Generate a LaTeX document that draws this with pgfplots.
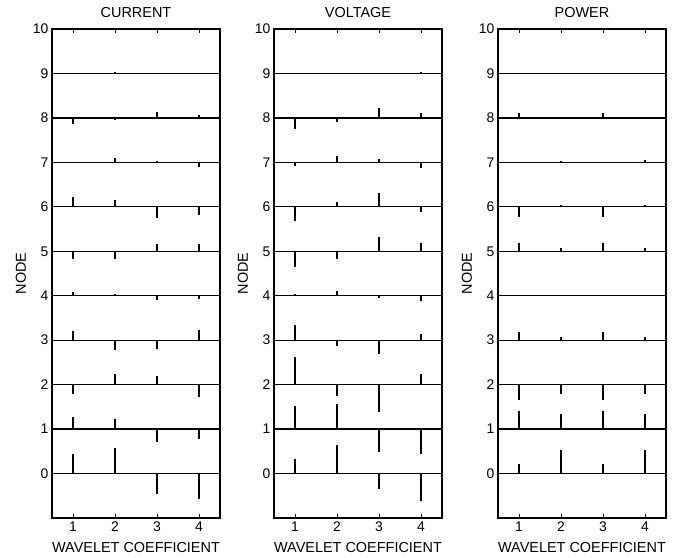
\documentclass[border=0pt]{standalone}
\usepackage{pgfplots}
\usepackage{pgfplotstable}
\usepackage{fontspec}
\setmainfont{Liberation Sans}
\pgfplotsset{compat=1.18}

% columns: x = wavelet coefficient, n = node (baseline), v = bar value
\pgfplotstableread{
x n v
1 9 0.00
2 9 0.03
3 9 0.02
4 9 -0.02
1 8 -0.14
2 8 -0.05
3 8 0.13
4 8 0.07
1 7 -0.02
2 7 0.10
3 7 0.04
4 7 -0.10
1 6 0.23
2 6 0.16
3 6 -0.25
4 6 -0.18
1 5 -0.18
2 5 -0.18
3 5 0.17
4 5 0.17
1 4 0.08
2 4 0.05
3 4 -0.09
4 4 -0.08
1 3 0.20
2 3 -0.23
3 3 -0.19
4 3 0.23
1 2 -0.21
2 2 0.25
3 2 0.19
4 2 -0.28
1 1 0.27
2 1 0.22
3 1 -0.29
4 1 -0.22
1 0 0.43
2 0 0.58
3 0 -0.45
4 0 -0.58
}\current

\pgfplotstableread{
x n v
1 9 0.00
2 9 -0.02
3 9 0.02
4 9 0.04
1 8 -0.25
2 8 -0.10
3 8 0.23
4 8 0.12
1 7 -0.08
2 7 0.15
3 7 0.08
4 7 -0.12
1 6 -0.33
2 6 0.10
3 6 0.32
4 6 -0.12
1 5 -0.35
2 5 -0.18
3 5 0.33
4 5 0.19
1 4 0.03
2 4 0.10
3 4 -0.04
4 4 -0.12
1 3 0.34
2 3 -0.13
3 3 -0.32
4 3 0.15
1 2 0.62
2 2 -0.26
3 2 -0.62
4 2 0.25
1 1 0.52
2 1 0.57
3 1 -0.52
4 1 -0.57
1 0 0.33
2 0 0.65
3 0 -0.34
4 0 -0.61
}\voltage

\pgfplotstableread{
x n v
1 9 0.00
2 9 0.00
3 9 0.01
4 9 0.00
1 8 0.10
2 8 0.02
3 8 0.10
4 8 0.02
1 7 0.01
2 7 0.04
3 7 0.01
4 7 0.05
1 6 -0.24
2 6 0.04
3 6 -0.24
4 6 0.05
1 5 0.19
2 5 0.07
3 5 0.19
4 5 0.08
1 4 0.01
2 4 0.01
3 4 0.01
4 4 0.01
1 3 0.19
2 3 0.08
3 3 0.19
4 3 0.08
1 2 -0.35
2 2 -0.22
3 2 -0.35
4 2 -0.22
1 1 0.41
2 1 0.34
3 1 0.41
4 1 0.34
1 0 0.22
2 0 0.52
3 0 0.22
4 0 0.52
}\power

\pgfplotsset{
  panel/.style={
    scale only axis,
    width=168bp, height=489bp,
    xmin=0.5, xmax=4.5, ymin=-1, ymax=10,
    xtick={1,2,3,4}, ytick={0,...,10},
    tick align=inside,
    major tick length=4bp,
    ytick style={draw=none},
    ymajorgrids,
    grid style={black, line width=1.2bp, solid},
    axis line style={line width=1.2bp},
    every tick/.style={black, line width=1bp},
    font=\fontsize{14.5}{16}\selectfont,
    tick label style={font=\fontsize{14}{16}\selectfont},
    /pgf/number format/assume math mode=true,
    every axis title/.style={at={(axis description cs:0.5,1)}, anchor=base, yshift=11bp},
    every axis x label/.style={at={(axis description cs:0.5,0)}, anchor=base, yshift=-34bp},
    every axis y label/.style={at={(axis description cs:-0.185,0.5)}, rotate=90, anchor=center},
    xlabel={WAVELET COEFFICIENT},
    ylabel={NODE},
  },
  bars/.style={quiver={u=0, v=\thisrow{v}}, black, line width=2.8bp, -}
}

\begin{document}
\begin{tikzpicture}
\path[use as bounding box] (-52bp,-40bp) rectangle (636bp,518bp);
\begin{axis}[panel, title={CURRENT}, at={(0bp,0bp)}, anchor=south west]
  \addplot[bars] table[x=x, y=n] {\current};
\end{axis}
\begin{axis}[panel, title={VOLTAGE}, at={(222bp,0bp)}, anchor=south west]
  \addplot[bars] table[x=x, y=n] {\voltage};
\end{axis}
\begin{axis}[panel, title={POWER}, at={(446bp,0bp)}, anchor=south west]
  \addplot[bars] table[x=x, y=n] {\power};
\end{axis}
\end{tikzpicture}
\end{document}
